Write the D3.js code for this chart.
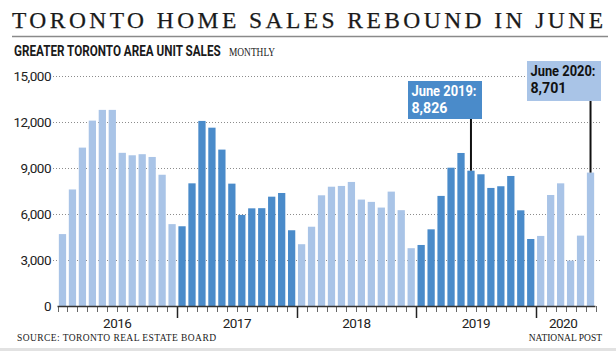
<!DOCTYPE html>
<html>
<head>
<meta charset="utf-8">
<script src="https://d3js.org/d3.v7.min.js"></script>
<title>Toronto home sales</title>
<style>
	body { margin: 0; background: #fff; }
	svg { display: block; }
</style>
</head>
<body>
<div id="chart"></div>
<script type="text/javascript">

	// monthly unit sales
	var years = [2016, 2017, 2018, 2019, 2020];
	var sales2016 = [4690, 7600, 10330, 12090, 12790, 12790, 9990, 9830, 9900, 9720, 8560, 5340];
	var sales2017 = [5200, 8000, 12070, 11630, 10200, 7980, 5940, 6370, 6380, 7130, 7370, 4940];
	var sales2018 = [4030, 5170, 7220, 7780, 7830, 8090, 6940, 6790, 6420, 7460, 6250, 3770];
	var sales2019 = [3980, 5000, 7180, 9020, 9980, 8826, 8590, 7700, 7810, 8480, 6240, 4370];
	var sales2020 = [4570, 7240, 8000, 2960, 4590, 8701];
	var yTicks = [0, 3000, 6000, 9000, 12000, 15000];
	var callouts = [
		{ year: 2019, month: 5, lines: ["June 2019:", "8,826"] },
		{ year: 2020, month: 5, lines: ["June 2020:", "8,701"] }
	];

	var light = "#a9c4e7", dark = "#4a8bca";

	var data = [];
	[sales2016, sales2017, sales2018, sales2019, sales2020].forEach(function(arr, i){
		arr.forEach(function(v, m){
			data.push({ year: years[i], month: m, value: v, key: years[i] + "-" + m });
		});
	});

	var W = 616, H = 351;
	var svg = d3.select("#chart").append("svg")
		.attr("width", W)
		.attr("height", H);

	// squeeze a text horizontally so it is exactly w wide (condensed look)
	function squeezed(parent, x, y, w, str, attrs){
		var g = parent.append("g");
		var t = g.append("text").attr("x", 0).attr("y", 0).text(str);
		Object.keys(attrs).forEach(function(k){ t.attr(k, attrs[k]); });
		var nat = t.node().getComputedTextLength();
		g.attr("transform", "translate(" + x + "," + y + ") scale(" + (w / nat) + ",1)");
		return g;
	}

	// title + subtitle
	svg.append("text")
		.attr("x", 12).attr("y", 28)
		.attr("font-family", "Liberation Serif, serif")
		.attr("font-size", 23.5)
		.attr("textLength", 591)
		.attr("lengthAdjust", "spacing")
		.attr("fill", "#1a1a1a")
		.attr("stroke", "#1a1a1a")
		.attr("stroke-width", 0.25)
		.text("TORONTO HOME SALES REBOUND IN JUNE");

	svg.append("line")
		.attr("x1", 12).attr("x2", 608)
		.attr("y1", 36.5).attr("y2", 36.5)
		.attr("stroke", "#8a8a8a").attr("stroke-width", 1.5);

	squeezed(svg, 14, 56, 207, "GREATER TORONTO AREA UNIT SALES", {
		"font-family": "Roboto, sans-serif",
		"font-weight": "bold",
		"font-size": 14.5,
		"fill": "#1a1a1a"
	});

	squeezed(svg, 229, 56, 46, "MONTHLY", {
		"font-family": "Liberation Serif, serif",
		"font-size": 11.5,
		"fill": "#1a1a1a"
	});

	// scales
	var xScale = d3.scaleBand()
		.domain(data.map(function(d){ return d.key; }))
		.range([57.5, 595.5])
		.paddingInner(0.27)
		.paddingOuter(0.135);

	var yScale = d3.scaleLinear()
		.domain([0, 15000])
		.range([306, 76]);

	var step = xScale.step();
	var x0 = xScale.range()[0];

	// gridlines
	svg.append("g").selectAll("line")
		.data(yTicks.filter(function(d){ return d > 0; }))
		.enter().append("line")
		.attr("x1", 53).attr("x2", 600)
		.attr("y1", function(d){ return yScale(d) + 0.5; })
		.attr("y2", function(d){ return yScale(d) + 0.5; })
		.attr("stroke", "#8c8c8c")
		.attr("stroke-width", 1)
		.attr("stroke-dasharray", "1,2");

	// y axis labels
	var yAxis = d3.axisLeft(yScale)
		.tickValues(yTicks)
		.tickSize(0)
		.tickPadding(0)
		.tickFormat(d3.format(","));

	var gy = svg.append("g")
		.attr("transform", "translate(51,0)")
		.call(yAxis);
	gy.select(".domain").remove();
	gy.selectAll("text")
		.attr("font-family", "Roboto, sans-serif")
		.attr("font-size", 13.5)
		.attr("letter-spacing", -0.5)
		.attr("fill", "#222");

	// bars
	svg.selectAll("rect.bar")
		.data(data).enter().append("rect")
		.attr("class", "bar")
		.attr("x", function(d){ return xScale(d.key); })
		.attr("width", xScale.bandwidth())
		.attr("y", function(d){ return yScale(d.value); })
		.attr("height", function(d){ return yScale(0) - yScale(d.value); })
		.attr("fill", function(d){ return (d.year % 2 == 0) ? light : dark; });

	// x axis: ticks between months, longer ones between years
	var idx = d3.scaleLinear().domain([0, data.length]).range([x0, x0 + step * data.length]);
	var tickIdx = d3.range(data.length + 1);
	var isYear = function(d){ return d % 12 == 0 && d > 0 && d < data.length; };

	svg.append("g").selectAll("line")
		.data(tickIdx).enter().append("line")
		.attr("x1", function(d){ return Math.round(idx(d)) + 0.5; })
		.attr("x2", function(d){ return Math.round(idx(d)) + 0.5; })
		.attr("y1", 306)
		.attr("y2", function(d){ return isYear(d) ? 318 : 312; })
		.attr("stroke", function(d){ return isYear(d) ? "#222" : "#666"; })
		.attr("stroke-width", function(d){ return isYear(d) ? 1.5 : 1; });

	svg.append("line")
		.attr("x1", x0).attr("x2", x0 + step * data.length)
		.attr("y1", 306.5).attr("y2", 306.5)
		.attr("stroke", "#333").attr("stroke-width", 1.5);

	// year labels
	svg.append("g").selectAll("text")
		.data(years).enter().append("text")
		.attr("x", function(y){
			var ds = data.filter(function(d){ return d.year == y; });
			var a = xScale(ds[0].key), b = xScale(ds[ds.length - 1].key) + xScale.bandwidth();
			return (a + b) / 2 - (ds.length < 12 ? 2.5 : 0);
		})
		.attr("y", 327.5)
		.attr("text-anchor", "middle")
		.attr("font-family", "Roboto, sans-serif")
		.attr("font-size", 13.5)
		.attr("letter-spacing", -0.5)
		.attr("fill", "#222")
		.text(function(d){ return d; });

	// callouts
	var boxes = [
		{ x: 408, y: 81, w: 74, h: 38, fill: dark, color: "#fff" },
		{ x: 527, y: 61, w: 74, h: 40, fill: light, color: "#111" }
	];

	callouts.forEach(function(c, i){
		var d = data.filter(function(e){ return e.year == c.year && e.month == c.month; })[0];
		var b = boxes[i];
		var cx = xScale(d.key) + xScale.bandwidth() / 2;
		svg.append("line")
			.attr("x1", cx).attr("x2", cx)
			.attr("y1", b.y + b.h).attr("y2", yScale(d.value))
			.attr("stroke", "#111").attr("stroke-width", 2);
		svg.append("rect")
			.attr("x", b.x).attr("y", b.y)
			.attr("width", b.w).attr("height", b.h)
			.attr("fill", b.fill);
		c.lines.forEach(function(t, j){
			squeezed(svg, b.x + 3.5, b.y + 15 + j * 16.5, j == 0 ? 65 : 36, t, {
				"font-family": "Roboto, sans-serif",
				"font-weight": "bold",
				"font-size": 14,
				"fill": b.color
			});
		});
	});

	// footer
	svg.append("text")
		.attr("x", 17).attr("y", 341)
		.attr("font-family", "Liberation Serif, serif")
		.attr("font-size", 9.5)
		.attr("textLength", 199)
		.attr("fill", "#1a1a1a")
		.text("SOURCE: TORONTO REAL ESTATE BOARD");

	svg.append("text")
		.attr("x", 602).attr("y", 341)
		.attr("text-anchor", "end")
		.attr("font-family", "Liberation Serif, serif")
		.attr("font-size", 9.5)
		.attr("fill", "#1a1a1a")
		.text("NATIONAL POST");

	svg.append("rect")
		.attr("x", 0).attr("y", 348)
		.attr("width", W).attr("height", 3)
		.attr("fill", "#e2e2e2");

</script>
</body>
</html>
